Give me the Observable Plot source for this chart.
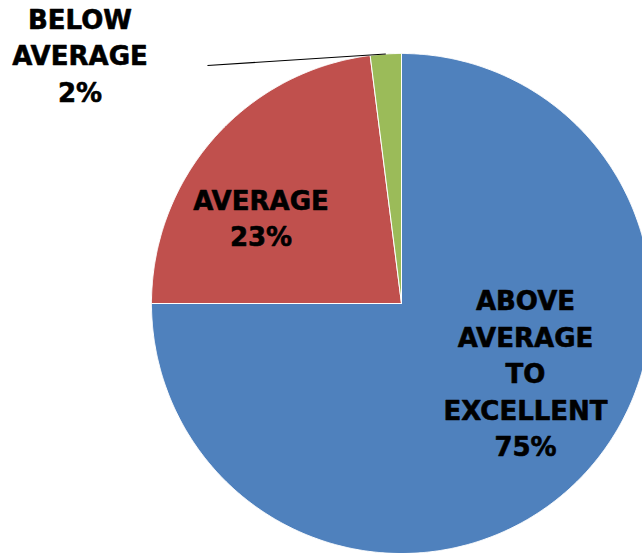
<!DOCTYPE html>
<html><head><meta charset="utf-8">
<script src="https://cdn.jsdelivr.net/npm/d3@7"></script>
<script src="https://cdn.jsdelivr.net/npm/@observablehq/plot@0.6"></script>
<style>body{margin:0;background:#fff;overflow:hidden}</style>
</head><body><div id="chart"></div>
<script>
// ---- data ----
const categories = ["ABOVE AVERAGE TO EXCELLENT", "AVERAGE", "BELOW AVERAGE"];
const labelText = ["ABOVE\nAVERAGE\nTO\nEXCELLENT", "AVERAGE", "BELOW\nAVERAGE"];
const values = [75, 23, 2];
const colors = ["#4F81BD", "#C0504D", "#9BBB59"];

// ---- layout (in pie-radius units, separate from data) ----
const labelPos = [[0.496, -0.272], [-0.562, 0.348], [-1.286, 1.0]];
const leaderStart = [-0.776, 0.952]; // for the outside label of slice 3
const R = 250, W = 642, H = 553, CX = 401, CY = 303;

// ---- build slices from the values ----
const total = d3.sum(values);
let acc = 0;
const slices = values.map((v, i) => {
  const a0 = acc / total * 2 * Math.PI;
  acc += v;
  const a1 = acc / total * 2 * Math.PI;
  return {cat: categories[i], value: v, a0, a1, mid: (a0 + a1) / 2};
});
const pts = [];
for (const s of slices) {
  const n = Math.max(4, Math.ceil((s.a1 - s.a0) / (Math.PI / 720)));
  pts.push({cat: s.cat, x: 0, y: 0});
  for (let k = 0; k <= n; k++) {
    const a = s.a0 + (s.a1 - s.a0) * k / n;
    pts.push({cat: s.cat, x: Math.sin(a), y: Math.cos(a)});
  }
  pts.push({cat: s.cat, x: 0, y: 0});
}
const labels = slices.map((s, i) => ({
  text: labelText[i] + "\n" + s.value + "%",
  x: labelPos[i][0], y: labelPos[i][1]
}));
const g = slices[2];
const leader = [{x1: leaderStart[0], y1: leaderStart[1], x2: Math.sin(g.mid), y2: Math.cos(g.mid)}];

const chart = Plot.plot({
  width: W, height: H, margin: 0,
  x: {domain: [-CX / R, (W - CX) / R], axis: null},
  y: {domain: [-(H - CY) / R, CY / R], axis: null},
  color: {domain: categories, range: colors},
  style: {background: "#fff", overflow: "hidden"},
  marks: [
    Plot.line(pts, {x: "x", y: "y", z: "cat", fill: "cat", stroke: "#fff", strokeWidth: 1, curve: "linear"}),
    Plot.link(leader, {x1: "x1", y1: "y1", x2: "x2", y2: "y2", stroke: "#000", strokeWidth: 1.2}),
    Plot.text(labels, {x: "x", y: "y", text: "text", fill: "#000", stroke: "#000", strokeWidth: 0.6,
      fontSize: 26, fontWeight: "bold",
      fontFamily: "DejaVu Sans", lineHeight: 1.4, lineAnchor: "middle", textAnchor: "middle"})
  ]
});
document.getElementById("chart").appendChild(chart);
</script>
</body></html>
